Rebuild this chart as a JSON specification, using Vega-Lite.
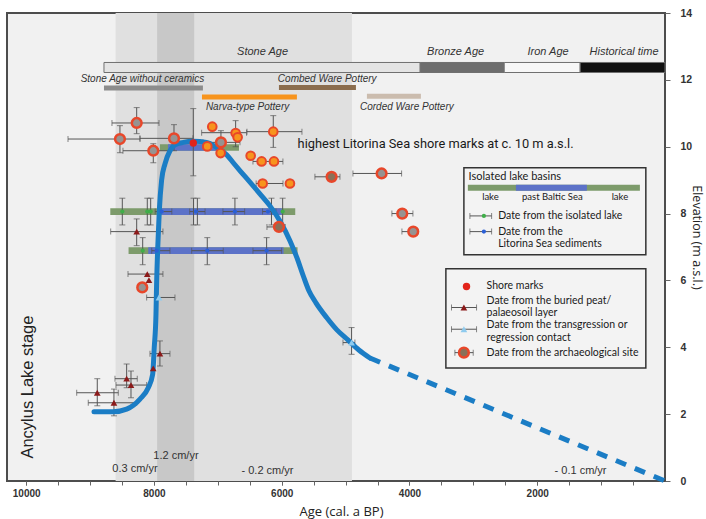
{
 "$schema": "https://vega.github.io/schema/vega-lite/v6.json",
 "width": 658,
 "height": 468,
 "autosize": {"type": "none"},
 "padding": {"left": 7, "top": 13, "right": 41, "bottom": 38},
 "background": "#ffffff",
 "resolve": {"axis": {"x": "independent"}},
 "config": {
  "view": {"fill": "#f1f1f1", "stroke": "#4d4d4d", "strokeWidth": 2},
  "text": {"font": "Liberation Sans"},
  "axis": {"grid": false, "domain": false, "tickColor": "#666", "labelFont": "Liberation Sans", "labelFontSize": 10, "labelFontWeight": "bold", "labelColor": "#333",
   "titleFont": "Open Sans", "titleFontSize": 13, "titleFontWeight": "normal", "titleColor": "#222"}
 },
 "datasets": {
  "bands": [{"a1": 8600, "a2": 4900, "band": "wide"}, {"a1": 7950, "a2": 7370, "band": "narrow"}],
  "boxes": [{"a1": 3148, "a2": 300, "e1": 6.77, "e2": 9.37}, {"a1": 3430, "a2": 300, "e1": 3.38, "e2": 6.35}],
  "periods": [
   {"name": "Stone Age", "a1": 8782, "a2": 3832, "e1": 12.22, "e2": 12.52},
   {"name": "Bronze Age", "a1": 3832, "a2": 2517, "e1": 12.22, "e2": 12.52},
   {"name": "Iron Age", "a1": 2517, "a2": 1328, "e1": 12.22, "e2": 12.52},
   {"name": "Historical time", "a1": 1328, "a2": 0, "e1": 12.22, "e2": 12.52}
  ],
  "periodLabels": [
   {"label": "Stone Age", "age": 6300, "elev": 12.82},
   {"label": "Bronze Age", "age": 3278, "elev": 12.82},
   {"label": "Iron Age", "age": 1830, "elev": 12.82},
   {"label": "Historical time", "age": 641, "elev": 12.82}
  ],
  "cultures": [
   {"name": "Stone Age without ceramics", "a1": 8782, "a2": 7233, "elev": 11.76},
   {"name": "Combed Ware Pottery", "a1": 6043, "a2": 4838, "elev": 11.77},
   {"name": "Narva-type Pottery", "a1": 7248, "a2": 5762, "elev": 11.49},
   {"name": "Corded Ware Pottery", "a1": 4666, "a2": 3821, "elev": 11.51}
  ],
  "cultureLabels": [
   {"label": "Stone Age without ceramics", "age": 8180, "elev": 12.03},
   {"label": "Combed Ware Pottery", "age": 5287, "elev": 12.03},
   {"label": "Narva-type Pottery", "age": 6534, "elev": 11.18},
   {"label": "Corded Ware Pottery", "age": 4041, "elev": 11.2}
  ],
  "lakeBars": [
   {"a1": 7906, "a2": 6669, "e1": 9.88, "e2": 10.07, "part": "lake"},
   {"a1": 7780, "a2": 7014, "e1": 9.88, "e2": 10.07, "part": "sea"},
   {"a1": 8683, "a2": 5788, "e1": 7.96, "e2": 8.16, "part": "lake"},
   {"a1": 7901, "a2": 5999, "e1": 7.96, "e2": 8.16, "part": "sea"},
   {"a1": 8397, "a2": 5752, "e1": 6.79, "e2": 6.99, "part": "lake"},
   {"a1": 8089, "a2": 5971, "e1": 6.79, "e2": 6.99, "part": "sea"},
   {"a1": 3086, "a2": 393, "e1": 8.68, "e2": 8.86, "part": "lake"},
   {"a1": 2334, "a2": 1223, "e1": 8.68, "e2": 8.86, "part": "sea"}
  ],
  "xerr": [
   {"lo": 8657, "hi": 7921, "elev": 10.71},
   {"lo": 9345, "hi": 8218, "elev": 10.23},
   {"lo": 8485, "hi": 7749, "elev": 9.88},
   {"lo": 8219, "hi": 7389, "elev": 10.25},
   {"lo": 7233, "hi": 6653, "elev": 10.13},
   {"lo": 5480, "hi": 5088, "elev": 9.1},
   {"lo": 4885, "hi": 4123, "elev": 9.2},
   {"lo": 4275, "hi": 3946, "elev": 8.0},
   {"lo": 4118, "hi": 3868, "elev": 7.46},
   {"lo": 6231, "hi": 5949, "elev": 7.6},
   {"lo": 6544, "hi": 5683, "elev": 10.45},
   {"lo": 7253, "hi": 6550, "elev": 10.42},
   {"lo": 6450, "hi": 5981, "elev": 9.56},
   {"lo": 6400, "hi": 5980, "elev": 8.9},
   {"lo": 8677, "hi": 7859, "elev": 7.46},
   {"lo": 8406, "hi": 7859, "elev": 6.19},
   {"lo": 8114, "hi": 7671, "elev": 5.49},
   {"lo": 8062, "hi": 7749, "elev": 3.81},
   {"lo": 8610, "hi": 8261, "elev": 3.06},
   {"lo": 8594, "hi": 8114, "elev": 2.87},
   {"lo": 9209, "hi": 8558, "elev": 2.64},
   {"lo": 9028, "hi": 8270, "elev": 2.34},
   {"lo": 5041, "hi": 4854, "elev": 4.14},
   {"lo": 7980, "hi": 7720, "elev": 8.06},
   {"lo": 7440, "hi": 7200, "elev": 8.06},
   {"lo": 6920, "hi": 6580, "elev": 8.06},
   {"lo": 6300, "hi": 6090, "elev": 8.06},
   {"lo": 8035, "hi": 7749, "elev": 6.89},
   {"lo": 7409, "hi": 6915, "elev": 6.89},
   {"lo": 6450, "hi": 6001, "elev": 6.89},
   {"lo": 3054, "hi": 2714, "elev": 7.93},
   {"lo": 3054, "hi": 2714, "elev": 7.46},
   {"lo": 3342, "hi": 2950, "elev": 5.19},
   {"lo": 3342, "hi": 2950, "elev": 4.54},
   {"lo": 3289, "hi": 3002, "elev": 3.84}
  ],
  "yerr": [
   {"age": 8270, "lo": 10.39, "hi": 11.17},
   {"age": 8532, "lo": 9.82, "hi": 10.63},
   {"age": 8010, "lo": 9.52, "hi": 10.09},
   {"age": 7686, "lo": 9.88, "hi": 10.66},
   {"age": 6951, "lo": 9.79, "hi": 10.48},
   {"age": 6721, "lo": 10.0, "hi": 10.78},
   {"age": 6132, "lo": 9.98, "hi": 10.93},
   {"age": 7384, "lo": 9.13, "hi": 11.14},
   {"age": 8270, "lo": 7.04, "hi": 7.84},
   {"age": 7906, "lo": 3.44, "hi": 4.19},
   {"age": 8427, "lo": 2.79, "hi": 3.5},
   {"age": 8359, "lo": 2.49, "hi": 3.29},
   {"age": 8887, "lo": 2.25, "hi": 3.06},
   {"age": 8626, "lo": 1.95, "hi": 2.75},
   {"age": 4906, "lo": 3.79, "hi": 4.59},
   {"age": 8495, "lo": 7.66, "hi": 8.46},
   {"age": 8104, "lo": 7.66, "hi": 8.46},
   {"age": 8051, "lo": 7.66, "hi": 8.46},
   {"age": 7380, "lo": 7.66, "hi": 8.46},
   {"age": 7320, "lo": 7.66, "hi": 8.46},
   {"age": 6732, "lo": 7.66, "hi": 8.46},
   {"age": 6160, "lo": 7.66, "hi": 8.46},
   {"age": 5985, "lo": 7.66, "hi": 8.46},
   {"age": 8176, "lo": 6.47, "hi": 7.28},
   {"age": 7165, "lo": 6.47, "hi": 7.28},
   {"age": 6236, "lo": 6.47, "hi": 7.28}
  ],
  "curve": [
   {"age": 8938, "elev": 2.07}, {"age": 8636, "elev": 2.07}, {"age": 8427, "elev": 2.15},
   {"age": 8218, "elev": 2.45}, {"age": 8089, "elev": 2.79}, {"age": 8020, "elev": 3.19},
   {"age": 7995, "elev": 3.99}, {"age": 7968, "elev": 4.99}, {"age": 7957, "elev": 5.99},
   {"age": 7940, "elev": 7.0}, {"age": 7916, "elev": 8.08}, {"age": 7880, "elev": 9.0},
   {"age": 7827, "elev": 9.49}, {"age": 7749, "elev": 9.88}, {"age": 7671, "elev": 10.06},
   {"age": 7541, "elev": 10.13}, {"age": 7384, "elev": 10.16}, {"age": 7175, "elev": 10.13},
   {"age": 7018, "elev": 9.98}, {"age": 6862, "elev": 9.76}, {"age": 6758, "elev": 9.52},
   {"age": 6638, "elev": 9.25}, {"age": 6497, "elev": 8.94}, {"age": 6341, "elev": 8.59},
   {"age": 6184, "elev": 8.23}, {"age": 6028, "elev": 7.78}, {"age": 5871, "elev": 7.19},
   {"age": 5762, "elev": 6.68}, {"age": 5663, "elev": 6.14}, {"age": 5574, "elev": 5.69},
   {"age": 5464, "elev": 5.33}, {"age": 5297, "elev": 4.89}, {"age": 5136, "elev": 4.52},
   {"age": 4964, "elev": 4.22}, {"age": 4792, "elev": 3.92}, {"age": 4619, "elev": 3.68}
  ],
  "curveDash": [{"age": 4619, "elev": 3.68}, {"age": 0, "elev": 0}],
  "lakeDots": [
   {"age": 8495, "elev": 8.06}, {"age": 8104, "elev": 8.06}, {"age": 8051, "elev": 8.06},
   {"age": 5985, "elev": 8.06}, {"age": 8176, "elev": 6.89}, {"age": 2835, "elev": 7.93}
  ],
  "seaDots": [
   {"age": 7879, "elev": 8.06}, {"age": 7342, "elev": 8.06}, {"age": 6732, "elev": 8.06},
   {"age": 6215, "elev": 8.06}, {"age": 7957, "elev": 6.89}, {"age": 7165, "elev": 6.89},
   {"age": 6236, "elev": 6.89}, {"age": 2835, "elev": 7.46}
  ],
  "peat": [
   {"age": 8270, "elev": 7.46}, {"age": 8104, "elev": 6.19}, {"age": 8078, "elev": 6.01},
   {"age": 7906, "elev": 3.81}, {"age": 8011, "elev": 3.37}, {"age": 8427, "elev": 3.06},
   {"age": 8359, "elev": 2.87}, {"age": 8887, "elev": 2.64}, {"age": 8626, "elev": 2.34},
   {"age": 3148, "elev": 5.19}
  ],
  "trans": [{"age": 7921, "elev": 5.49}, {"age": 4906, "elev": 4.14}, {"age": 3148, "elev": 4.54}],
  "shore": [
   {"age": 7087, "elev": 10.6}, {"age": 6721, "elev": 10.41}, {"age": 6690, "elev": 10.28},
   {"age": 7165, "elev": 10.01}, {"age": 6956, "elev": 9.81}, {"age": 6132, "elev": 10.45},
   {"age": 6486, "elev": 9.73}, {"age": 6314, "elev": 9.56}, {"age": 6121, "elev": 9.56},
   {"age": 6298, "elev": 8.9}, {"age": 5871, "elev": 8.9}
  ],
  "arch": [
   {"age": 8270, "elev": 10.71, "kind": "grey"}, {"age": 8532, "elev": 10.23, "kind": "grey"},
   {"age": 8010, "elev": 9.88, "kind": "grey"}, {"age": 7686, "elev": 10.25, "kind": "grey"},
   {"age": 6951, "elev": 10.13, "kind": "grey"}, {"age": 5219, "elev": 9.1, "kind": "brown"},
   {"age": 4436, "elev": 9.2, "kind": "grey"}, {"age": 4113, "elev": 8.0, "kind": "grey"},
   {"age": 3941, "elev": 7.46, "kind": "grey"}, {"age": 6043, "elev": 7.6, "kind": "brown"},
   {"age": 8183, "elev": 5.79, "kind": "grey"}, {"age": 3148, "elev": 3.84, "kind": "brown"}
  ],
  "red": [{"age": 7384, "elev": 10.11}, {"age": 3107, "elev": 5.82}],
  "mainNote": [{"t": "highest Litorina Sea shore marks at c. 10 m a.s.l.", "age": 5751, "elev": 10.09}],
  "rates": [
   {"t": "0.3 cm/yr", "age": 8297, "elev": 0.35},
   {"t": "1.2 cm/yr", "age": 7655, "elev": 0.75},
   {"t": "- 0.2 cm/yr", "age": 6223, "elev": 0.3},
   {"t": "- 0.1 cm/yr", "age": 1322, "elev": 0.3}
  ],
  "stage": [{"t": "Ancylus Lake stage", "age": 9971, "elev": 2.81}],
  "legTitle": [{"t": "Isolated lake basins", "age": 3075, "elev": 9.08}],
  "legSub": [
   {"t": "lake", "age": 2733, "elev": 8.5},
   {"t": "past Baltic Sea", "age": 1763, "elev": 8.5},
   {"t": "lake", "age": 706, "elev": 8.5}
  ],
  "legText": [
   {"t": "Date from the isolated lake", "age": 2612, "elev": 7.93},
   {"t": "Date from the", "age": 2612, "elev": 7.46},
   {"t": "Litorina Sea sediments", "age": 2612, "elev": 7.1},
   {"t": "Shore marks", "age": 2793, "elev": 5.82},
   {"t": "Date from the buried peat/", "age": 2793, "elev": 5.39},
   {"t": "palaeosoil layer", "age": 2793, "elev": 5.04},
   {"t": "Date from the transgression or", "age": 2793, "elev": 4.66},
   {"t": "regression contact", "age": 2793, "elev": 4.29},
   {"t": "Date from the archaeological site", "age": 2793, "elev": 3.82}
  ]
 },
 "layer": [
  {
   "data": {"name": "bands"},
   "transform": [{"filter": "datum.band === 'wide'"}],
   "mark": {"type": "rect", "fill": "#e0e0e0"},
   "encoding": {"x": {"field": "a1", "type": "quantitative",
     "axis": {"orient": "bottom", "values": [500, 1000, 1500, 2000, 2500, 3000, 3500, 4000, 4500, 5000, 5500, 6000, 6500, 7000, 7500, 8000, 8500, 9000, 9500, 10000],
      "labels": false, "title": null, "tickSize": 4}},
    "x2": {"field": "a2"}}
  },
  {
   "data": {"name": "bands"},
   "transform": [{"filter": "datum.band === 'narrow'"}],
   "mark": {"type": "rect", "fill": "#c8c8c8"},
   "encoding": {"x": {"field": "a1", "type": "quantitative", "axis": null}, "x2": {"field": "a2"}}
  },
  {
   "data": {"name": "boxes"},
   "mark": {"type": "rect", "fill": "#f3f3f3", "stroke": "#333333", "strokeWidth": 1.5},
   "encoding": {
    "x": {"field": "a1", "type": "quantitative",
     "scale": {"domain": [0, 10300], "reverse": true, "nice": false, "zero": false},
     "axis": {"orient": "bottom", "title": "Age (cal. a BP)", "values": [2000, 4000, 6000, 8000, 10000], "format": "d",
      "labelOverlap": false, "labelFlush": false,
      "tickSize": 4, "labelPadding": 3, "titleX": 334, "titleY": 30, "titleBaseline": "middle", "titleAnchor": "middle", "titleAlign": "center"}},
    "x2": {"field": "a2"},
    "y": {"field": "e1", "type": "quantitative",
     "scale": {"domain": [0, 14], "nice": false, "zero": false},
     "axis": {"orient": "right", "title": "Elevation (m a.s.l.)", "values": [0,1,2,3,4,5,6,7,8,9,10,11,12,13,14],
      "tickSize": 5, "labelFontSize": 10.5, "labelPadding": 10, "titleAngle": 90, "titleX": 31, "titleY": 224, "titleFontSize": 12.5,
      "titleBaseline": "middle", "titleAlign": "center", "titleAnchor": "middle"}},
    "y2": {"field": "e2"}}
  },
  {
   "data": {"name": "periods"},
   "mark": {"type": "rect", "stroke": "#707070", "strokeWidth": 1},
   "encoding": {"x": {"field": "a1", "type": "quantitative", "axis": null}, "x2": {"field": "a2"},
    "y": {"field": "e1", "type": "quantitative"}, "y2": {"field": "e2"},
    "fill": {"field": "name", "type": "nominal", "legend": null,
     "scale": {"domain": ["Stone Age", "Bronze Age", "Iron Age", "Historical time"], "range": ["#e4e4e4", "#6d6d6d", "#f7f7f7", "#111111"]}}}
  },
  {
   "data": {"name": "periodLabels"},
   "mark": {"type": "text", "fontStyle": "italic", "fontSize": 11, "color": "#333"},
   "encoding": {"x": {"field": "age", "type": "quantitative", "axis": null}, "y": {"field": "elev", "type": "quantitative"}, "text": {"field": "label"}}
  },
  {
   "data": {"name": "cultures"},
   "mark": {"type": "rule", "strokeWidth": 5, "strokeCap": "butt"},
   "encoding": {"x": {"field": "a1", "type": "quantitative", "axis": null}, "x2": {"field": "a2"},
    "y": {"field": "elev", "type": "quantitative"},
    "stroke": {"field": "name", "type": "nominal", "legend": null,
     "scale": {"domain": ["Stone Age without ceramics", "Combed Ware Pottery", "Narva-type Pottery", "Corded Ware Pottery"], "range": ["#8c8c8c", "#8b6d4e", "#f7941d", "#cbbcae"]}}}
  },
  {
   "data": {"name": "cultureLabels"},
   "mark": {"type": "text", "fontStyle": "italic", "fontSize": 10, "color": "#333"},
   "encoding": {"x": {"field": "age", "type": "quantitative", "axis": null}, "y": {"field": "elev", "type": "quantitative"}, "text": {"field": "label"}}
  },
  {
   "data": {"name": "lakeBars"},
   "transform": [{"filter": "datum.part === 'lake'"}],
   "mark": {"type": "rect", "fill": "#7d9b6b"},
   "encoding": {"x": {"field": "a1", "type": "quantitative", "axis": null}, "x2": {"field": "a2"},
    "y": {"field": "e1", "type": "quantitative"}, "y2": {"field": "e2"}}
  },
  {
   "data": {"name": "lakeBars"},
   "transform": [{"filter": "datum.part === 'sea'"}],
   "mark": {"type": "rect", "fill": "#5c72c8"},
   "encoding": {"x": {"field": "a1", "type": "quantitative", "axis": null}, "x2": {"field": "a2"},
    "y": {"field": "e1", "type": "quantitative"}, "y2": {"field": "e2"}}
  },
  {
   "data": {"name": "xerr"},
   "mark": {"type": "rule", "color": "#555", "strokeWidth": 1},
   "encoding": {"x": {"field": "lo", "type": "quantitative", "axis": null}, "x2": {"field": "hi"},
    "y": {"field": "elev", "type": "quantitative"}}
  },
  {
   "data": {"name": "xerr"},
   "transform": [{"fold": ["lo", "hi"], "as": ["end", "v"]}],
   "mark": {"type": "tick", "orient": "vertical", "color": "#555", "size": 6, "thickness": 1},
   "encoding": {"x": {"field": "v", "type": "quantitative", "axis": null}, "y": {"field": "elev", "type": "quantitative"}}
  },
  {
   "data": {"name": "yerr"},
   "mark": {"type": "rule", "color": "#555", "strokeWidth": 1},
   "encoding": {"x": {"field": "age", "type": "quantitative", "axis": null},
    "y": {"field": "lo", "type": "quantitative"}, "y2": {"field": "hi"}}
  },
  {
   "data": {"name": "yerr"},
   "transform": [{"fold": ["lo", "hi"], "as": ["end", "v"]}],
   "mark": {"type": "tick", "orient": "horizontal", "color": "#555", "size": 6, "thickness": 1},
   "encoding": {"x": {"field": "age", "type": "quantitative", "axis": null}, "y": {"field": "v", "type": "quantitative"}}
  },
  {
   "data": {"name": "curve"},
   "mark": {"type": "line", "color": "#1b7dc5", "strokeWidth": 5, "interpolate": "monotone", "strokeCap": "round"},
   "encoding": {"x": {"field": "age", "type": "quantitative", "axis": null}, "y": {"field": "elev", "type": "quantitative"}}
  },
  {
   "data": {"name": "curveDash"},
   "mark": {"type": "line", "color": "#1b7dc5", "strokeWidth": 5, "strokeDash": [11, 9.5], "strokeCap": "butt"},
   "encoding": {"x": {"field": "age", "type": "quantitative", "axis": null}, "y": {"field": "elev", "type": "quantitative"}}
  },
  {
   "data": {"name": "lakeDots"},
   "mark": {"type": "point", "filled": true, "color": "#3fae49", "size": 18, "opacity": 1},
   "encoding": {"x": {"field": "age", "type": "quantitative", "axis": null}, "y": {"field": "elev", "type": "quantitative"}}
  },
  {
   "data": {"name": "seaDots"},
   "mark": {"type": "point", "filled": true, "color": "#2a5fd6", "size": 18, "opacity": 1},
   "encoding": {"x": {"field": "age", "type": "quantitative", "axis": null}, "y": {"field": "elev", "type": "quantitative"}}
  },
  {
   "data": {"name": "peat"},
   "mark": {"type": "point", "shape": "triangle-up", "filled": true, "color": "#8b1a1a", "size": 45, "opacity": 1},
   "encoding": {"x": {"field": "age", "type": "quantitative", "axis": null}, "y": {"field": "elev", "type": "quantitative"}}
  },
  {
   "data": {"name": "trans"},
   "mark": {"type": "point", "shape": "triangle-up", "filled": true, "color": "#8fcbee", "size": 45, "opacity": 1},
   "encoding": {"x": {"field": "age", "type": "quantitative", "axis": null}, "y": {"field": "elev", "type": "quantitative"}}
  },
  {
   "data": {"name": "shore"},
   "mark": {"type": "point", "shape": "circle", "filled": true, "fill": "#f7941d", "stroke": "#e8472a", "strokeWidth": 2, "size": 75, "opacity": 1},
   "encoding": {"x": {"field": "age", "type": "quantitative", "axis": null}, "y": {"field": "elev", "type": "quantitative"}}
  },
  {
   "data": {"name": "arch"},
   "transform": [{"filter": "datum.kind === 'grey'"}],
   "mark": {"type": "point", "shape": "circle", "filled": true, "fill": "#979391", "stroke": "#e8472a", "strokeWidth": 2.5, "size": 95, "opacity": 1},
   "encoding": {"x": {"field": "age", "type": "quantitative", "axis": null}, "y": {"field": "elev", "type": "quantitative"}}
  },
  {
   "data": {"name": "arch"},
   "transform": [{"filter": "datum.kind === 'brown'"}],
   "mark": {"type": "point", "shape": "circle", "filled": true, "fill": "#8a7058", "stroke": "#e8472a", "strokeWidth": 2.5, "size": 95, "opacity": 1},
   "encoding": {"x": {"field": "age", "type": "quantitative", "axis": null}, "y": {"field": "elev", "type": "quantitative"}}
  },
  {
   "data": {"name": "red"},
   "mark": {"type": "point", "shape": "circle", "filled": true, "color": "#e2231a", "size": 55, "opacity": 1},
   "encoding": {"x": {"field": "age", "type": "quantitative", "axis": null}, "y": {"field": "elev", "type": "quantitative"}}
  },
  {
   "data": {"name": "mainNote"},
   "mark": {"type": "text", "font": "Roboto", "fontSize": 12.8, "align": "left", "baseline": "middle", "color": "#1a1a1a"},
   "encoding": {"x": {"field": "age", "type": "quantitative", "axis": null}, "y": {"field": "elev", "type": "quantitative"}, "text": {"field": "t"}}
  },
  {
   "data": {"name": "rates"},
   "mark": {"type": "text", "fontSize": 11, "align": "center", "baseline": "middle", "color": "#333"},
   "encoding": {"x": {"field": "age", "type": "quantitative", "axis": null}, "y": {"field": "elev", "type": "quantitative"}, "text": {"field": "t"}}
  },
  {
   "data": {"name": "stage"},
   "mark": {"type": "text", "fontSize": 16.5, "angle": 270, "align": "center", "baseline": "middle", "color": "#222"},
   "encoding": {"x": {"field": "age", "type": "quantitative", "axis": null}, "y": {"field": "elev", "type": "quantitative"}, "text": {"field": "t"}}
  },
  {
   "data": {"name": "legTitle"},
   "mark": {"type": "text", "font": "Lato", "fontSize": 11, "align": "left", "baseline": "middle", "color": "#1a1a1a"},
   "encoding": {"x": {"field": "age", "type": "quantitative", "axis": null}, "y": {"field": "elev", "type": "quantitative"}, "text": {"field": "t"}}
  },
  {
   "data": {"name": "legSub"},
   "mark": {"type": "text", "font": "Lato", "fontSize": 9.5, "align": "center", "baseline": "middle", "color": "#1a1a1a"},
   "encoding": {"x": {"field": "age", "type": "quantitative", "axis": null}, "y": {"field": "elev", "type": "quantitative"}, "text": {"field": "t"}}
  },
  {
   "data": {"name": "legText"},
   "mark": {"type": "text", "font": "Lato", "fontSize": 10.5, "align": "left", "baseline": "middle", "color": "#1a1a1a"},
   "encoding": {"x": {"field": "age", "type": "quantitative", "axis": null}, "y": {"field": "elev", "type": "quantitative"}, "text": {"field": "t"}}
  }
 ]
}
